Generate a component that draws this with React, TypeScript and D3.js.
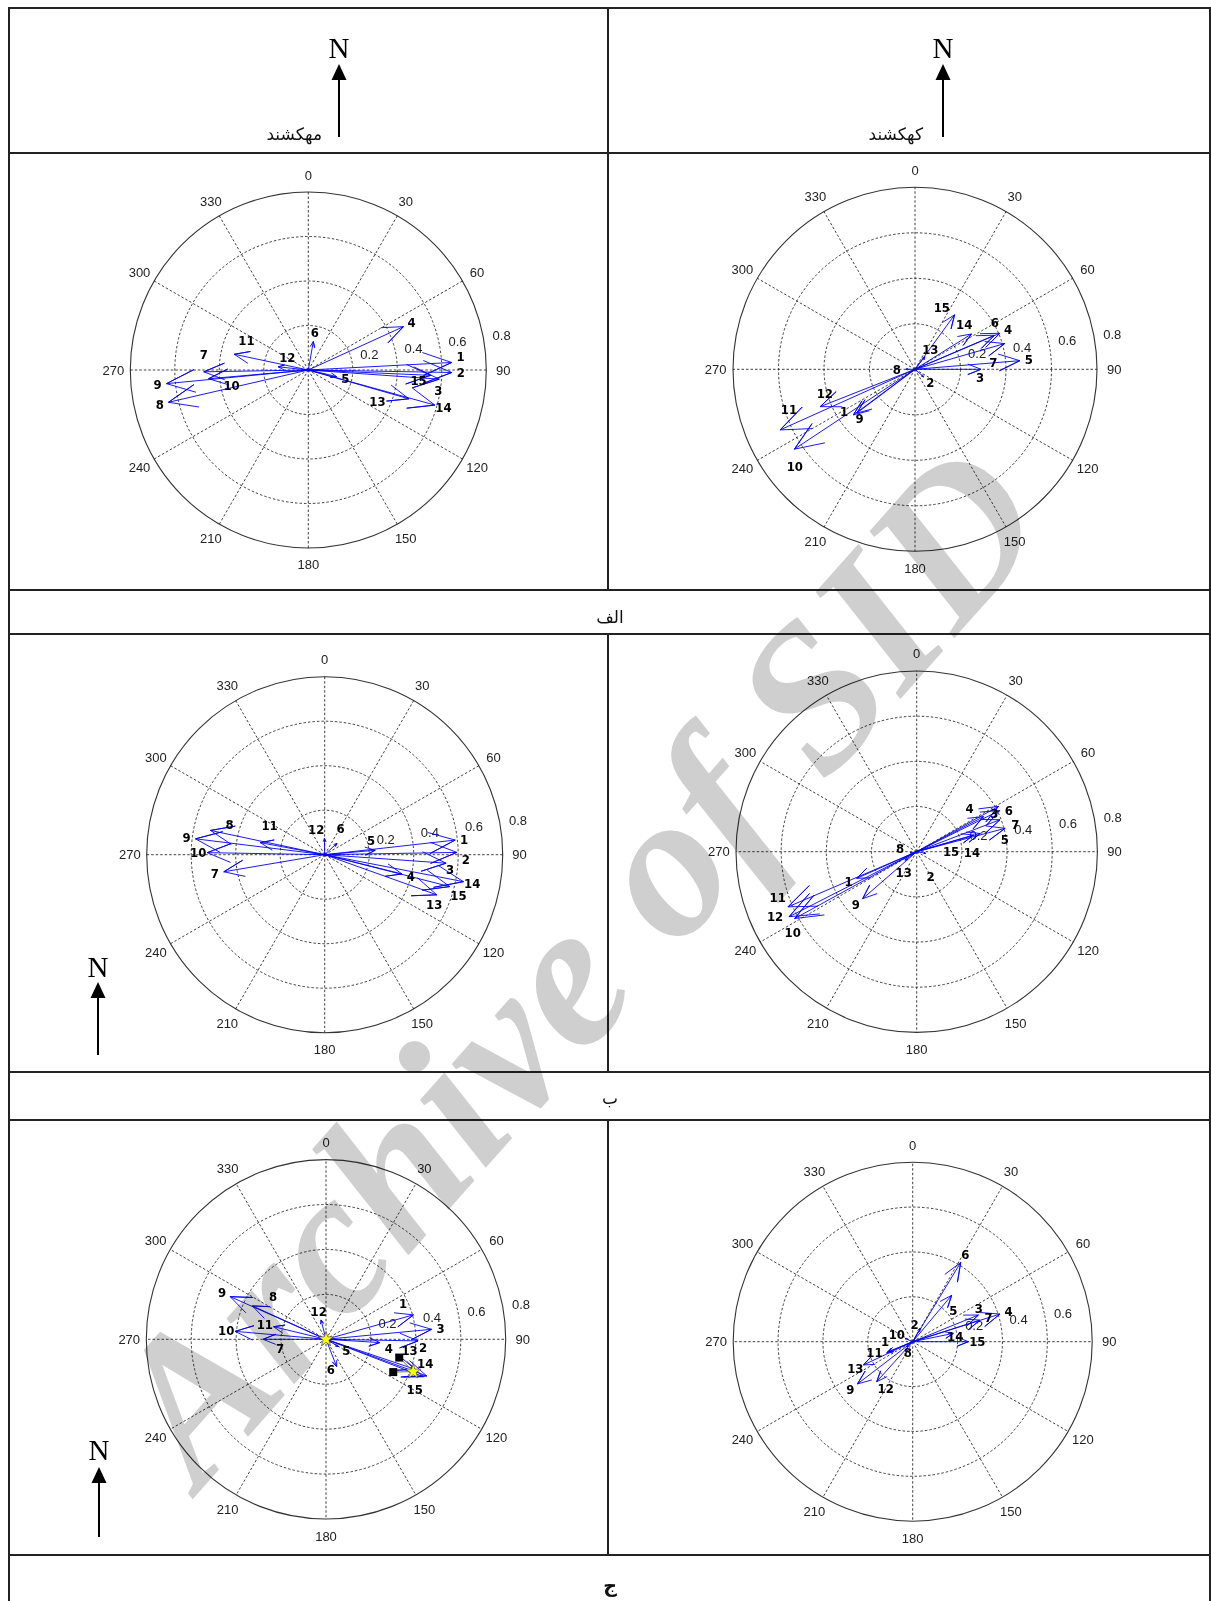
import { useEffect, useRef } from 'react';
import * as d3 from 'd3';

// ring values and compass bearings
const ringTicks = [0.2, 0.4, 0.6, 0.8];
const angleTicks = [0, 30, 60, 90, 120, 150, 180, 210, 240, 270, 300, 330];
const stationIds = [1, 2, 3, 4, 5, 6, 7, 8, 9, 10, 11, 12, 13, 14, 15];

// panel alef, left (mahkeshand)
const alefLeftBearing = [87, 91, 94, 65.5, 103, 10, 269, 257, 264.5, 265, 282, 276, 106, 105.5, 92.5];
const alefLeftLength = [0.645, 0.645, 0.59, 0.47, 0.13, 0.13, 0.47, 0.645, 0.64, 0.45, 0.34, 0.136, 0.47, 0.59, 0.55];
// panel alef, right (kahkeshand)
const alefRightBearing = [233.5, 131, 90, 67, 85.3, 66.8, 74, 270, 233, 236.5, 245.8, 248.5, 38, 58, 36];
const alefRightLength = [0.337, 0.05, 0.29, 0.405, 0.462, 0.38, 0.41, 0.04, 0.32, 0.636, 0.65, 0.448, 0.07, 0.293, 0.296];
// panel be
const beLeftBearing = [83.6, 89, 94, 104, 85, 47, 260.4, 282, 277, 271, 280.6, 359, 109.7, 101, 104.3];
const beLeftLength = [0.59, 0.594, 0.547, 0.358, 0.228, 0.075, 0.46, 0.525, 0.585, 0.528, 0.294, 0.073, 0.535, 0.635, 0.58];
const beRightBearing = [246, 100, 61, 62.3, 75.2, 63.6, 69, 260, 229, 241.3, 246.8, 243, 234, 74, 73.6];
const beRightLength = [0.29, 0.04, 0.414, 0.334, 0.405, 0.41, 0.395, 0.03, 0.317, 0.616, 0.62, 0.634, 0.064, 0.293, 0.262];
// panel jim
const jimLeftBearing = [74.4, 91, 84.6, 93.5, 120, 158.7, 270, 294.4, 294, 275, 283.5, 345.5, 108.6, 110, 111];
const jimLeftLength = [0.404, 0.41, 0.472, 0.24, 0.064, 0.13, 0.28, 0.36, 0.467, 0.406, 0.24, 0.089, 0.418, 0.477, 0.464];
const jimRightBearing = [247.7, 29, 67.9, 72.4, 40, 31.2, 72.2, 230, 232.6, 293, 247, 222, 244.7, 78.4, 90];
const jimRightLength = [0.117, 0.068, 0.316, 0.408, 0.27, 0.413, 0.315, 0.035, 0.31, 0.037, 0.126, 0.24, 0.243, 0.185, 0.248];
// extra markers in panel jim, left
const squareBearing = [104, 116];
const squareLength = [0.336, 0.333];
const starBearing = [0, 110.3];
const starLength = [0, 0.414];

// label nudges (px) where numbers were hand placed in the original
const panels = [
  {
    cx: 308.3, cy: 370, R: 178, bearing: alefLeftBearing, length: alefLeftLength, rings: [0.2, 0.4, 0.6, 0.8],
    nudge: { 1: [0, -6], 3: [-10, 11], 7: [9, -17], 10: [32, 6], 11: [21, -12], 12: [18, -8], 13: [-40, 0], 15: [-21, 5] },
  },
  {
    cx: 915, cy: 369.3, R: 182, bearing: alefRightBearing, length: alefRightLength, rings: [0.2, 0.4, 0.6, 0.8],
    nudge: { 1: [-2, -9], 3: [-10, 8], 6: [-8, -9], 7: [-20, 21], 9: [10, 0], 10: [8, 12], 11: [17, -24], 12: [13, -16], 14: [-15, -5], 15: [-18, 0] },
  },
  {
    cx: 324.7, cy: 854.7, R: 178, bearing: beLeftBearing, length: beLeftLength, rings: [0.2, 0.4, 0.6, 0.8],
    nudge: { 2: [0, 7], 3: [-5, 6], 5: [-13, -9], 6: [-3, -9], 8: [28, -4], 11: [18, -16], 12: [-8, 0], 13: [-11, 7], 15: [0, 7] },
  },
  {
    cx: 916.7, cy: 851.7, R: 180.7, bearing: beRightBearing, length: beRightLength, rings: [0.2, 0.4, 0.6, 0.8],
    nudge: { 2: [-4, 22], 3: [-12, 11], 4: [-22, -4], 5: [-9, 13], 6: [1, 4], 7: [7, 8], 8: [-1, -6], 10: [6, 10], 11: [-2, -13], 12: [-6, -4], 13: [6, 7], 14: [-17, 22], 15: [-31, 19] },
  },
  {
    cx: 326, cy: 1339.3, R: 179.7, bearing: jimLeftBearing, length: jimLeftLength, rings: [0.2, 0.4, 0.6, 0.8], markers: true,
    nudge: { 1: [-19, -9], 2: [-4, 6], 4: [0, 5], 6: [-9, -5], 7: [26, 9], 8: [29, -6], 13: [-14, -22], 14: [-10, -16], 15: [-17, 10] },
  },
  {
    cx: 912.7, cy: 1341.7, R: 179.5, bearing: jimRightBearing, length: jimRightLength, rings: [0.2, 0.4, 0.6],
    nudge: { 1: [5, -14], 2: [-10, 4], 3: [-8, -3], 5: [-4, 22], 8: [8, 0], 11: [-4, -4], 12: [15, 0], 14: [-7, 5] },
  },
];

const rad = (deg: number) => (deg * Math.PI) / 180;

const drawCompass = (svg: any, p: any) => {
  const g = svg.append('g').attr('transform', `translate(${p.cx},${p.cy})`);
  const r = d3.scaleLinear().domain([0, 0.8]).range([0, p.R]);

  // rings
  ringTicks.forEach(t => {
    g.append('circle')
      .attr('r', r(t))
      .attr('fill', 'none')
      .attr('stroke', t === 0.8 ? '#333' : '#111')
      .attr('stroke-width', t === 0.8 ? 1.1 : 0.8)
      .attr('stroke-dasharray', t === 0.8 ? null : '2.5,2');
  });
  // spokes + angle labels
  angleTicks.forEach(a => {
    const [x, y] = d3.pointRadial(rad(a), r(0.8));
    g.append('line').attr('x1', 0).attr('y1', 0).attr('x2', x).attr('y2', y)
      .attr('stroke', '#111').attr('stroke-width', 0.8).attr('stroke-dasharray', '2.5,2');
    const [lx, ly] = d3.pointRadial(rad(a), p.R * 1.095);
    g.append('text').text(a).attr('x', lx).attr('y', ly)
      .attr('text-anchor', 'middle').attr('dominant-baseline', 'central')
      .attr('font-family', 'Liberation Sans, Arial, sans-serif').attr('font-size', 13).attr('fill', '#222');
  });
  // ring labels
  p.rings.forEach((t: number) => {
    const [x, y] = d3.pointRadial(rad(82), r(t));
    g.append('text').text(t).attr('x', x + 8).attr('y', y - 5)
      .attr('font-family', 'Liberation Sans, Arial, sans-serif').attr('font-size', 13).attr('fill', '#222');
  });

  // arrows (compass style: head scales with length)
  const line = d3.line();
  stationIds.forEach((id, i) => {
    const b = rad(p.bearing[i]);
    const L = r(p.length[i]);
    const u = [Math.sin(b), -Math.cos(b)];
    const v = [Math.cos(b), Math.sin(b)];
    const tip: [number, number] = [u[0] * L, u[1] * L];
    const b1: [number, number] = [u[0] * 0.8 * L + v[0] * 0.08 * L, u[1] * 0.8 * L + v[1] * 0.08 * L];
    const b2: [number, number] = [u[0] * 0.8 * L - v[0] * 0.08 * L, u[1] * 0.8 * L - v[1] * 0.08 * L];
    g.append('path').attr('d', line([[0, 0], tip, b1, tip, b2]))
      .attr('fill', 'none').attr('stroke', '#0000ff').attr('stroke-width', 0.9);
  });

  if (p.markers) {
    squareBearing.forEach((a, i) => {
      const [x, y] = d3.pointRadial(rad(a), r(squareLength[i]));
      const [sx, sy] = d3.pointRadial(rad(starBearing[1]), r(starLength[1]));
      g.append('line').attr('x1', x).attr('y1', y).attr('x2', sx).attr('y2', sy)
        .attr('stroke', '#8a7a00').attr('stroke-width', 1);
      g.append('rect').attr('x', x - 4).attr('y', y - 4).attr('width', 8).attr('height', 8).attr('fill', '#000');
    });
    starBearing.forEach((a, i) => {
      const [x, y] = d3.pointRadial(rad(a), r(starLength[i]));
      g.append('path').attr('d', d3.symbol(d3.symbolStar, 70)())
        .attr('transform', `translate(${x},${y})`)
        .attr('fill', '#ffff00').attr('stroke', '#333').attr('stroke-width', 0.6);
    });
  }

  // station numbers
  stationIds.forEach((id, i) => {
    const [x, y] = d3.pointRadial(rad(p.bearing[i]), r(p.length[i]) + 9);
    const [nx, ny] = (p.nudge && p.nudge[id]) || [0, 0];
    g.append('text').text(id).attr('x', x + nx).attr('y', y + ny)
      .attr('text-anchor', 'middle').attr('dominant-baseline', 'central')
      .attr('font-family', 'Liberation Sans Narrow, DejaVu Sans Condensed, Arial, sans-serif')
      .attr('font-weight', 'bold').attr('font-size', 13).attr('fill', '#000');
  });
};

const northArrow = (svg: any, x: number, nBase: number, headTop: number, end: number) => {
  svg.append('text').text('N').attr('x', x).attr('y', nBase).attr('text-anchor', 'middle')
    .attr('font-family', 'Liberation Serif, Times New Roman, serif').attr('font-size', 29).attr('fill', '#000');
  svg.append('path').attr('d', `M${x},${headTop} L${x - 7.5},${headTop + 16} L${x + 7.5},${headTop + 16} Z`).attr('fill', '#000');
  svg.append('line').attr('x1', x).attr('y1', headTop + 14).attr('x2', x).attr('y2', end)
    .attr('stroke', '#000').attr('stroke-width', 2);
};

export default function App() {
  const ref = useRef<SVGSVGElement>(null);
  useEffect(() => {
    const svg = d3.select(ref.current);
    svg.selectAll('*').remove();
    svg.append('rect').attr('width', 1211).attr('height', 1601).attr('fill', '#fff');

    panels.forEach(p => drawCompass(svg, p));

    // table grid
    const stroke = '#222';
    const hLines = [8, 153, 590, 634, 1072, 1120, 1555];
    hLines.forEach(y => svg.append('line').attr('x1', 8).attr('x2', 1211).attr('y1', y).attr('y2', y)
      .attr('stroke', stroke).attr('stroke-width', 2));
    svg.append('line').attr('x1', 9).attr('x2', 9).attr('y1', 8).attr('y2', 1601).attr('stroke', stroke).attr('stroke-width', 2);
    svg.append('line').attr('x1', 1210).attr('x2', 1210).attr('y1', 8).attr('y2', 1601).attr('stroke', stroke).attr('stroke-width', 2);
    [[8, 590], [634, 1072], [1120, 1555]].forEach(([a, b]) =>
      svg.append('line').attr('x1', 608).attr('x2', 608).attr('y1', a).attr('y2', b).attr('stroke', stroke).attr('stroke-width', 2));

    // header
    northArrow(svg, 339, 58, 64, 137);
    northArrow(svg, 943, 58, 64, 137);
    northArrow(svg, 98, 977, 982, 1055);
    northArrow(svg, 99, 1460, 1467, 1537);
    const fa = 'DejaVu Sans, Noto Sans, sans-serif';
    svg.append('text').text('مهکشند').attr('x', 322).attr('y', 140).attr('text-anchor', 'end')
      .attr('font-family', fa).attr('font-size', 17).attr('fill', '#111');
    svg.append('text').text('کهکشند').attr('x', 923).attr('y', 140).attr('text-anchor', 'end')
      .attr('font-family', fa).attr('font-size', 17).attr('fill', '#111');
    // row labels
    svg.append('text').text('الف').attr('x', 610).attr('y', 623).attr('text-anchor', 'middle')
      .attr('font-family', fa).attr('font-size', 17).attr('fill', '#111');
    svg.append('text').text('ب').attr('x', 610).attr('y', 1104).attr('text-anchor', 'middle')
      .attr('font-family', fa).attr('font-size', 17).attr('fill', '#111');
    svg.append('text').text('ج').attr('x', 610).attr('y', 1592).attr('text-anchor', 'middle')
      .attr('font-family', fa).attr('font-size', 19).attr('font-weight', 'bold').attr('fill', '#111');

    // watermark
    svg.append('text').text('Archive of SID')
      .attr('transform', 'translate(575,962) rotate(-48.5)')
      .attr('text-anchor', 'middle')
      .attr('dominant-baseline', 'central')
      .attr('font-family', 'Liberation Serif, Times New Roman, serif')
      .attr('font-style', 'italic').attr('font-weight', 'bold')
      .attr('font-size', 205)
      .attr('textLength', 1290).attr('lengthAdjust', 'spacingAndGlyphs')
      .attr('fill', '#cfcfcf')
      .style('mix-blend-mode', 'multiply');
  }, []);
  return (
    <div style={{ position: 'absolute', left: 0, top: 0 }}>
      <svg ref={ref} width={1211} height={1601} />
    </div>
  );
}
